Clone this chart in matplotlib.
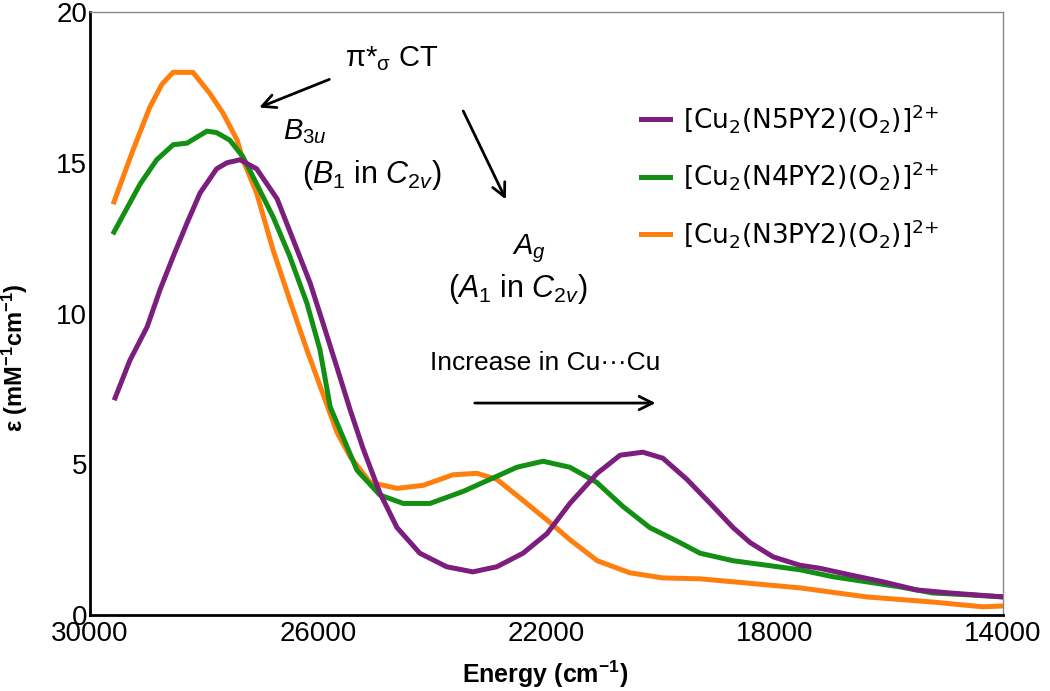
import numpy as np
import matplotlib
matplotlib.use("Agg")
import matplotlib.pyplot as plt

# spectra (energy in cm-1, epsilon in mM-1 cm-1)
e_n3 = [29580, 29250, 28950, 28740, 28545, 28195, 27900, 27670, 27420, 27320,
        27080, 26790, 26500, 26200, 25920, 25670, 25440, 25090, 24620, 24160,
        23640, 23220, 22870, 22410, 21990, 21590, 21110, 20540, 19960, 19310,
        18430, 17560, 16390, 15230, 14350, 14000]
eps_n3 = [13.7, 15.4, 16.85, 17.6, 18.0, 18.0, 17.3, 16.65, 15.75, 15.1,
          14.0, 12.1, 10.45, 8.8, 7.35, 6.05, 5.25, 4.4, 4.2, 4.3,
          4.65, 4.7, 4.5, 3.8, 3.15, 2.5, 1.8, 1.4, 1.23, 1.2,
          1.05, 0.9, 0.6, 0.43, 0.27, 0.3]

e_n4 = [29580, 29120, 28830, 28540, 28300, 27950, 27780, 27550, 27320, 27080,
        26790, 26500, 26200, 25970, 25790, 25320, 24920, 24510, 24040, 23460,
        22870, 22520, 22060, 21590, 21120, 20660, 20190, 19660, 19310, 18730,
        18140, 17560, 16980, 16390, 15800, 15230, 14630, 14000]
eps_n4 = [12.7, 14.3, 15.1, 15.6, 15.65, 16.05, 16.0, 15.75, 15.2, 14.3,
          13.2, 11.9, 10.35, 8.8, 6.9, 4.8, 3.98, 3.7, 3.7, 4.1,
          4.6, 4.9, 5.1, 4.9, 4.4, 3.6, 2.9, 2.4, 2.05, 1.8,
          1.65, 1.5, 1.27, 1.1, 0.93, 0.73, 0.67, 0.6]

e_n5 = [29560, 29300, 29000, 28770, 28540, 28300, 28070, 27780, 27600, 27370,
        27080, 26720, 26440, 26140, 25920, 25670, 25440, 25210, 24920, 24620,
        24220, 23750, 23290, 22870, 22410, 21990, 21590, 21110, 20710, 20310,
        19960, 19540, 19130, 18730, 18430, 18030, 17560, 17210, 16680, 16100,
        15510, 14930, 14000]
eps_n5 = [7.2, 8.45, 9.55, 10.8, 11.9, 13.0, 14.0, 14.8, 15.0, 15.1,
          14.8, 13.8, 12.45, 11.0, 9.7, 8.2, 6.8, 5.5, 4.05, 2.9,
          2.05, 1.6, 1.43, 1.6, 2.05, 2.7, 3.7, 4.7, 5.3, 5.4,
          5.2, 4.5, 3.7, 2.9, 2.4, 1.93, 1.65, 1.55, 1.33, 1.1,
          0.83, 0.73, 0.6]

labels = [r"[Cu$\mathregular{_2}$(N5PY2)(O$\mathregular{_2}$)]$\mathregular{^{2{+}}}$",
          r"[Cu$\mathregular{_2}$(N4PY2)(O$\mathregular{_2}$)]$\mathregular{^{2{+}}}$",
          r"[Cu$\mathregular{_2}$(N3PY2)(O$\mathregular{_2}$)]$\mathregular{^{2{+}}}$"]
x_ticks = [30000, 26000, 22000, 18000, 14000]
y_ticks = [0, 5, 10, 15, 20]

plt.rcParams['font.family'] = ['Liberation Sans', 'DejaVu Sans']
plt.rcParams['mathtext.fontset'] = 'custom'
plt.rcParams['mathtext.rm'] = 'Liberation Sans'
plt.rcParams['mathtext.it'] = 'Liberation Sans:italic'
plt.rcParams['mathtext.bf'] = 'Liberation Sans:bold'

fig = plt.figure(figsize=(10.5, 6.91), dpi=100)
ax = fig.add_axes([0.0857, 0.11, 0.8695, 0.8726])

ax.plot(e_n5, eps_n5, color='#7b1e7e', lw=3.6, label=labels[0], zorder=3)
ax.plot(e_n4, eps_n4, color='#138f13', lw=3.6, label=labels[1], zorder=2)
ax.plot(e_n3, eps_n3, color='#ff7f0e', lw=3.6, label=labels[2], zorder=1)

ax.set_xlim(30000, 14000)
ax.set_ylim(0, 20)
ax.set_xticks(x_ticks)
ax.set_yticks(y_ticks)
ax.set_xticklabels([str(t) for t in x_ticks], fontsize=20)
ax.set_yticklabels([str(t) for t in y_ticks], fontsize=20)
ax.tick_params(length=0)
ax.tick_params(axis='x', pad=4)
ax.tick_params(axis='y', pad=2)

for s in ['left', 'bottom']:
    ax.spines[s].set_linewidth(2)
    ax.spines[s].set_color('black')
for s in ['top', 'right']:
    ax.spines[s].set_linewidth(1)
    ax.spines[s].set_color('#888888')

ax.set_xlabel(r"Energy (cm$^{\mathbf{-1}}$)", fontsize=18, fontweight='bold')
ax.xaxis.set_label_coords(0.498, -0.073)
ax.set_ylabel(r"ε (mM$^{\mathbf{-1}}$cm$^{\mathbf{-1}}$)", fontsize=17, fontweight='bold')
ax.yaxis.set_label_coords(-0.066, 0.426)

leg = ax.legend(loc='upper left', bbox_to_anchor=(0.589, 0.872), frameon=False,
                prop={'family': 'DejaVu Sans', 'size': 19}, handlelength=1.1,
                handletextpad=0.5, labelspacing=0.95, borderpad=0)

# annotations
ax.text(25530, 18.47, r"π*$_{\mathrm{σ}}$ CT", fontsize=21, ha='left', va='center')
ax.annotate("", xy=(27080, 16.8), xytext=(25760, 17.8),
            arrowprops=dict(arrowstyle='->', lw=2, color='black', mutation_scale=24))
ax.annotate("", xy=(22690, 13.7), xytext=(23480, 16.8),
            arrowprops=dict(arrowstyle='->', lw=2, color='black', mutation_scale=24))
ax.text(26620, 16.05, r"$B_{3u}$", fontsize=21, ha='left', va='center')
ax.text(26285, 14.6, r"($B_1$ in $C_{2v}$)", fontsize=22, ha='left', va='center')
ax.text(22600, 12.15, r"$A_g$", fontsize=21, ha='left', va='center')
ax.text(23726, 10.8, r"($A_1$ in $C_{2v}$)", fontsize=22, ha='left', va='center')
ax.text(24040, 8.37, "Increase in Cu···Cu", fontsize=19, ha='left', va='center')
ax.annotate("", xy=(20040, 7.03), xytext=(23305, 7.03),
            arrowprops=dict(arrowstyle='->', lw=2, color='black', mutation_scale=24))

fig.savefig("out.png", dpi=100)
